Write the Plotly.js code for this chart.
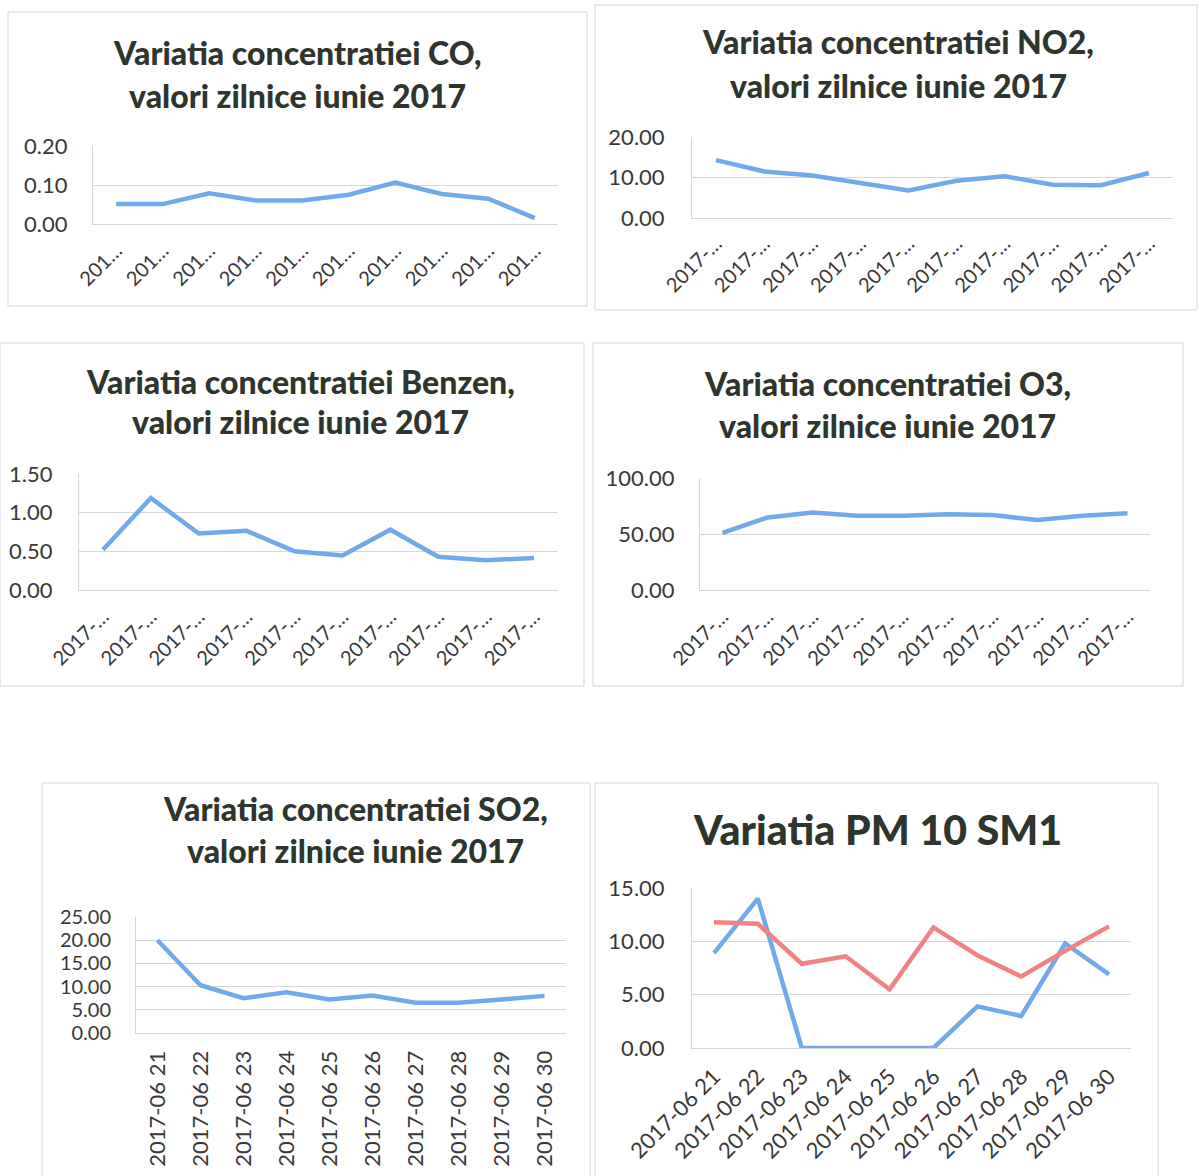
<!DOCTYPE html>
<html>
<head>
<meta charset="utf-8">
<script src="https://cdn.plot.ly/plotly-3.0.1.min.js"></script>
<style>html,body{margin:0;padding:0;background:#fff;}#chart{width:1199px;height:1176px;}</style>
</head>
<body>
<div id="chart"></div>
<script>
// ---- data ----
const dates = ["2017-06 21","2017-06 22","2017-06 23","2017-06 24","2017-06 25","2017-06 26","2017-06 27","2017-06 28","2017-06 29","2017-06 30"];
const labelsShortCO = ["201…","201…","201…","201…","201…","201…","201…","201…","201…","201…"];
const labelsShort = ["2017-…","2017-…","2017-…","2017-…","2017-…","2017-…","2017-…","2017-…","2017-…","2017-…"];
const coValues = [0.051, 0.051, 0.079, 0.060, 0.060, 0.075, 0.106, 0.077, 0.065, 0.015];
const no2Values = [14.3, 11.5, 10.5, 8.6, 6.8, 9.2, 10.3, 8.2, 8.1, 11.1];
const benzenValues = [0.52, 1.19, 0.73, 0.765, 0.50, 0.446, 0.78, 0.43, 0.385, 0.415];
const o3Values = [50.9, 64.7, 69.1, 66.2, 66.2, 67.6, 67.0, 62.4, 66.2, 68.5];
const so2Values = [20.0, 10.3, 7.5, 8.8, 7.2, 8.1, 6.5, 6.5, 7.2, 8.0];
const pm10Blue = [8.9, 14.0, 0, 0, 0, 0, 3.9, 3.0, 9.8, 6.9];
const pm10Red = [11.8, 11.65, 7.9, 8.6, 5.5, 11.3, 8.7, 6.7, 9.1, 11.4];
const titles = [
  ["Variatia concentratiei CO,", "valori zilnice iunie 2017"],
  ["Variatia concentratiei NO2,", "valori zilnice iunie 2017"],
  ["Variatia concentratiei Benzen,", "valori zilnice iunie 2017"],
  ["Variatia concentratiei O3,", "valori zilnice iunie 2017"],
  ["Variatia concentratiei SO2,", "valori zilnice iunie 2017"],
  ["Variatia PM 10 SM1"]
];

// ---- layout helpers ----
const W = 1199, H = 1176;
const px = x => x / W;
const py = y => 1 - y / H;
const BLUE = "#72a9ea", RED = "#f08282";
const TXT = "#2e352d", TICK = "#383838", GRID = "#d6d6d6";
const FONT = "Lato, 'Open Sans', sans-serif";

const panels = [
  {plot:[93,558,146,224], range:[0,0.2], dtick:0.1, labels:labelsShortCO, angle:-45, box:[8,587,12,306], tx:297, ty:[52,95], yfs:22, xfs:20, ys:20, xs:6},
  {plot:[692,1173,137,218], range:[0,20], dtick:10, labels:labelsShort, angle:-45, box:[595,1197,5,310], tx:898, ty:[42,85], yfs:22, xfs:20, ys:22, xs:5},
  {plot:[79,558,474,590], range:[0,1.5], dtick:0.5, labels:labelsShort, angle:-45, box:[0,584,343,686], tx:300, ty:[381,421], yfs:22, xfs:20, ys:21, xs:6},
  {plot:[700,1150,478,590], range:[0,100], dtick:50, labels:labelsShort, angle:-45, box:[593,1183,343,686], tx:888, ty:[383,425], yfs:22, xfs:20, ys:20, xs:6},
  {plot:[136,566,917,1033], range:[0,25], dtick:5, labels:dates, angle:-90, box:[42,590,783,1180], tx:355, ty:[808,850], yfs:20, xfs:22, ys:20, xs:8},
  {plot:[692,1131,888,1048], range:[0,15], dtick:5, labels:dates, angle:-45, box:[595,1158,783,1180], tx:877, ty:[830], yfs:22, xfs:22, ys:22, xs:6}
];

const series = [
  [{y:coValues, c:BLUE}],
  [{y:no2Values, c:BLUE}],
  [{y:benzenValues, c:BLUE}],
  [{y:o3Values, c:BLUE}],
  [{y:so2Values, c:BLUE}],
  [{y:pm10Blue, c:BLUE}, {y:pm10Red, c:RED}]
];

const data = [];
const layout = {
  width: W, height: H,
  margin: {l:0, r:0, t:0, b:0},
  paper_bgcolor: "#fff", plot_bgcolor: "#fff",
  showlegend: false,
  font: {family: FONT, color: TICK},
  shapes: [], annotations: []
};

panels.forEach((p, i) => {
  const n = i === 0 ? "" : String(i + 1);
  series[i].forEach(s => {
    data.push({
      type: "scatter", mode: "lines",
      x: dates, y: s.y,
      xaxis: "x" + n, yaxis: "y" + n,
      line: {color: s.c, width: 4.5, shape: "linear"},
      hoverinfo: "skip", cliponaxis: false
    });
  });
  layout["xaxis" + n] = {
    domain: [px(p.plot[0]), px(p.plot[1])],
    anchor: "y" + n,
    type: "category",
    range: [-0.5, dates.length - 0.5],
    tickmode: "array", tickvals: dates, ticktext: p.labels,
    tickangle: p.angle,
    tickfont: {size: p.xfs, color: TICK, family: FONT},
    ticklabelstandoff: p.xs,
    showgrid: false, zeroline: false,
    showline: true, linecolor: GRID, linewidth: 1,
    ticks: "", fixedrange: true
  };
  layout["yaxis" + n] = {
    domain: [py(p.plot[3]), py(p.plot[2])],
    anchor: "x" + n,
    range: p.range, dtick: p.dtick, tick0: 0,
    tickformat: ".2f",
    tickfont: {size: p.yfs, color: TICK, family: FONT},
    ticklabelstandoff: p.ys,
    showgrid: true, gridcolor: GRID, gridwidth: 1,
    zeroline: false, showline: true, linecolor: GRID, linewidth: 1,
    ticks: "", fixedrange: true
  };
  layout.shapes.push({
    type: "rect", xref: "paper", yref: "paper",
    x0: px(p.box[0]), x1: px(p.box[1]), y0: py(p.box[3]), y1: py(p.box[2]),
    line: {color: "#d4d4d4", width: 1}, fillcolor: "rgba(0,0,0,0)", layer: "below"
  });
  titles[i].forEach((t, k) => {
    layout.annotations.push({
      text: t, xref: "paper", yref: "paper",
      x: px(p.tx), y: py(p.ty[k]), xanchor: "center", yanchor: "middle",
      showarrow: false,
      font: {size: i === 5 ? 41 : 32, color: TXT, family: FONT, weight: 900}
    });
  });
});

Plotly.newPlot("chart", data, layout, {displayModeBar: false, staticPlot: true});
</script>
</body>
</html>
